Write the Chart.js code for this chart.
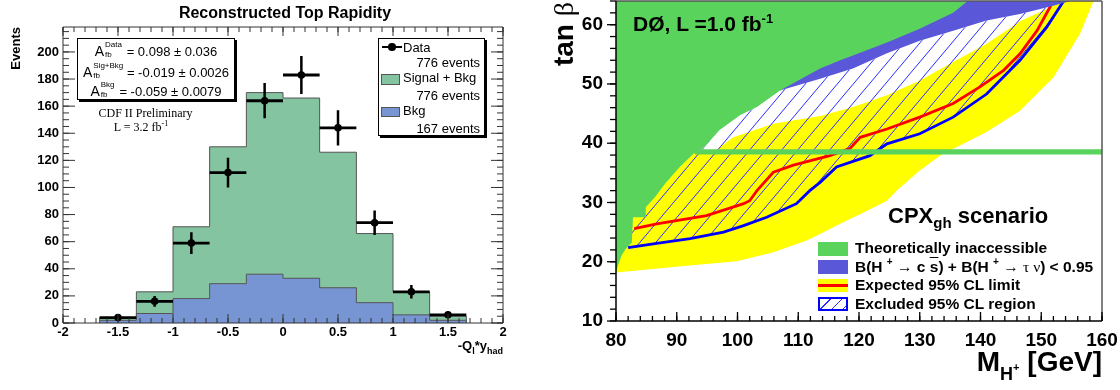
<!DOCTYPE html>
<html>
<head>
<meta charset="utf-8">
<script src="https://cdn.jsdelivr.net/npm/chart.js@4.4.1/dist/chart.umd.min.js"></script>
<style>
  html, body { margin: 0; padding: 0; background: #fff; }
  #wrap { position: relative; width: 1120px; height: 390px; overflow: hidden;
          font-family: 'Liberation Sans', Arial, sans-serif; color: #000; }
  canvas { position: absolute; top: 0; }
  #left  { left: 0; }
  #right { left: 540px; }
  .t   { position: absolute; white-space: nowrap; line-height: 1; }
  .b   { font-weight: bold; }
  .serif { font-family: 'Liberation Serif', 'Times New Roman', serif; }
  .rot { position: absolute; transform-origin: 0 0; transform: rotate(-90deg); text-align: right; white-space: nowrap; }
  .box { position: absolute; border: 1px solid #000; background: #fff; box-shadow: 2px 2px 0 #000; }
  .st  { left: 77px; width: 158px; text-align: center; font-size: 13px; }
  .A   { font-size: 14px; }
  .ud  { display: inline-block; position: relative; height: 1px; }
  .ud i { position: absolute; left: 1px; font-style: normal; font-size: 8px; line-height: 8px; }
  .ud .up { top: -14px; }
  .ud .dn { top: -4px; }
  .lg  { font-size: 13px; }
  .sw  { position: absolute; }
  .gr  { font-family: 'Liberation Serif', serif; font-weight: normal; }
  .n   { font-weight: normal; }
</style>
</head>
<body>
<div id="wrap">
  <canvas id="left" width="540" height="390"></canvas>
  <canvas id="right" width="580" height="390"></canvas>

  <!-- left panel text -->
  <div class="t b" style="left:0;width:570px;text-align:center;top:5px;font-size:16px">Reconstructed Top Rapidity</div>
  <div class="rot b" style="left:9px;top:87px;width:60px;font-size:13px;line-height:13px">Events</div>

  <div class="box" style="left:77px;top:38px;width:156px;height:60px"></div>
  <div class="t st" style="top:44px"><span class="A">A</span><span class="ud" style="width:19px"><i class="up">Data</i><i class="dn">fb</i></span> = 0.098 ± 0.036</div>
  <div class="t st" style="top:65px"><span class="A">A</span><span class="ud" style="width:31px"><i class="up">Sig+Bkg</i><i class="dn">fb</i></span> = -0.019 ± 0.0026</div>
  <div class="t st" style="top:84px"><span class="A">A</span><span class="ud" style="width:16px"><i class="up">Bkg</i><i class="dn">fb</i></span> = -0.059 ± 0.0079</div>

  <div class="t serif" style="left:60px;width:171px;text-align:center;top:107px;font-size:12px">CDF II Preliminary</div>
  <div class="t serif" style="left:60px;width:162px;text-align:center;top:121px;font-size:12px">L = 3.2 fb<span style="font-size:8px;position:relative;top:-5px">-1</span></div>

  <div class="box" style="left:378px;top:38px;width:105px;height:96px"></div>
  <div class="sw" style="left:382px;top:45.5px;width:20px;height:2.5px;background:#000"></div>
  <div class="sw" style="left:388px;top:43px;width:7.5px;height:7.5px;border-radius:50%;background:#000"></div>
  <div class="t lg" style="left:403px;top:41px">Data</div>
  <div class="t lg" style="right:640px;top:55.5px">776 events</div>
  <div class="sw" style="left:381px;top:74px;width:17px;height:9px;background:#85c4a0;border:1px solid #555"></div>
  <div class="t lg" style="left:403px;top:70.5px">Signal + Bkg</div>
  <div class="t lg" style="right:640px;top:89px">776 events</div>
  <div class="sw" style="left:381px;top:107px;width:17px;height:8px;background:#7895d3;border:1px solid #555"></div>
  <div class="t lg" style="left:403px;top:104px">Bkg</div>
  <div class="t lg" style="right:640px;top:121.5px">167 events</div>

  <div class="t b" style="right:617px;top:339px;font-size:13px">-Q<span style="font-size:9px;position:relative;top:4px">l</span>*y<span style="font-size:9px;position:relative;top:4px">had</span></div>

  <!-- right panel text -->
  <div class="rot b" style="left:550px;top:122px;width:120px;font-size:28px;line-height:28px">tan <span class="gr">β</span></div>
  <div class="t b" style="left:633px;top:13px;font-size:21px">DØ, L =1.0 fb<span style="font-size:13px;position:relative;top:-8px">-1</span></div>
  <div class="t b" style="left:888px;top:205px;font-size:22px">CPX<span style="font-size:15px;position:relative;top:5px">gh</span> scenario</div>

  <div class="sw" style="left:818px;top:242px;width:30px;height:14px;background:#59d35b"></div>
  <div class="sw" style="left:818px;top:260px;width:30px;height:14px;background:#5a58d8"></div>
  <div class="sw" style="left:818px;top:279px;width:30px;height:13px;background:#ffff00"></div>
  <div class="sw" style="left:818px;top:284px;width:30px;height:3px;background:#ff0000"></div>
  <div class="sw" style="left:818px;top:297px;width:26px;height:10px;border:2px solid #0000ff;background:repeating-linear-gradient(135deg,#fff 0 7px,#2b2bff 7px 8px)"></div>
  <div class="t b" style="left:855px;top:240px;font-size:15.5px">Theoretically inaccessible</div>
  <div class="t b" style="left:855px;top:258.5px;font-size:15.5px">B(H <span style="font-size:10px;position:relative;top:-7px">+</span> <span class="n">→</span> c <span style="text-decoration:overline">s</span>) + B(H <span style="font-size:10px;position:relative;top:-7px">+</span> <span class="n">→</span> <span class="gr">τ ν</span>) &lt; 0.95</div>
  <div class="t b" style="left:855px;top:277px;font-size:15.5px">Expected 95% CL limit</div>
  <div class="t b" style="left:855px;top:295.5px;font-size:15.5px">Excluded 95% CL region</div>

  <div class="t b" style="right:18px;top:348px;font-size:28px">M<span style="font-size:18px;position:relative;top:9px">H<span style="font-size:11px;position:relative;top:-9px">+</span></span> [GeV]</div>
</div>

<script>
// ---------- left: reconstructed top rapidity ----------
const BIN_EDGES = [-1.667, -1.333, -1, -0.667, -0.333, 0, 0.333, 0.667, 1, 1.333, 1.667]
const SIG_BKG   = [4, 23, 71, 130, 170, 166, 126, 66, 23, 5]
const BKG       = [2, 7, 18, 29, 36, 33, 26, 15, 6, 2]
const DATA_X    = [-1.5, -1.167, -0.833, -0.5, -0.167, 0.167, 0.5, 0.833, 1.167, 1.5]
const DATA_Y    = [4, 16, 59, 111, 164, 183, 144, 74, 23, 6]
const DATA_ERR  = [2, 4, 8, 11, 13, 14, 13, 9, 5, 2]
const RAP_TICKS = [-2, -1.5, -1, -0.5, 0, 0.5, 1, 1.5, 2]
const EVT_TICKS = [0, 20, 40, 60, 80, 100, 120, 140, 160, 180, 200]

// ---------- right: tan(beta) vs M_H+ exclusion ----------
const M_TICKS    = [80, 90, 100, 110, 120, 130, 140, 150, 160]
const TANB_TICKS = [10, 20, 30, 40, 50, 60]

const GREEN_M   = [80, 80.4, 80.9, 81.6, 82.6, 82.8, 84.8, 84.9, 86.5, 88.1, 90.5, 92.7, 93.5, 94.5, 97, 100.4, 103.2, 105.9, 107, 113.6, 116.9, 119, 124.6, 130, 135.5, 138.5]
const GREEN_TAN = [18.2, 19.6, 21.0, 22.2, 23.2, 27.5, 27.5, 29.2, 31.0, 33.2, 36.0, 38.2, 38.6, 39.3, 42.2, 44.7, 46.1, 48.1, 48.9, 52.6, 54.0, 54.8, 57.0, 59.3, 62.0, 64.5]

const BAND_M   = [107, 113.6, 119, 124.6, 130, 135.5, 141, 146.5, 152, 156.5]
const BAND_TAN = [48.9, 50.9, 52.6, 55.2, 57.3, 59.0, 60.7, 61.8, 63.2, 64.5]

const YLO_M   = [80, 89.4, 99.9, 105.9, 111.4, 113.6, 116.9, 120.5, 124.6, 126.2, 130, 133.5, 137.2, 141, 146.5, 152, 156.4, 158.8]
const YLO_TAN = [18.2, 19.1, 20.1, 21.6, 23.6, 24.7, 26.4, 28.2, 30.3, 32.0, 35.4, 38.0, 39.9, 41.9, 45.5, 51.1, 58.5, 64.5]
const YUP_M   = [80, 96, 99.3, 105.9, 113.6, 119, 124.6, 130, 135.5, 141, 146.5, 152, 153.5, 158.8]
const YUP_TAN = [38.5, 38.5, 41.0, 43.3, 44.6, 46.1, 48.1, 50.6, 53.7, 56.8, 60.6, 63.2, 64.5, 64.5]

const HATCH_M   = [82, 82.3, 83.5, 85.3, 87, 89, 91.5, 93.5, 94.5, 97, 100.4, 103.2, 105.9, 107, 113.6, 119, 124.6, 130, 135.5, 141, 146.5, 152, 154]
const HATCH_TAN = [22.4, 24.5, 26.5, 29.5, 31.5, 33.8, 36.8, 38.6, 39.3, 42.2, 44.7, 46.1, 48.1, 48.9, 50.9, 52.6, 55.2, 57.3, 59.0, 60.7, 61.8, 63.2, 64.5]

const EXCL_M   = [82, 86.7, 92.2, 97.7, 101, 104.8, 109.7, 111.9, 113.6, 116.3, 121.8, 124.6, 130, 135.5, 141, 146.5, 150.9, 154]
const EXCL_TAN = [22.4, 23.1, 23.9, 25.0, 26.1, 27.5, 29.8, 32.0, 33.4, 36.0, 37.9, 39.9, 41.6, 44.4, 48.3, 54.0, 59.6, 64.5]

const EXP_M   = [83, 86.7, 94.9, 101, 102, 103.2, 105.9, 109.2, 115.2, 118.5, 120.2, 124.6, 130, 135.5, 139.9, 143.8, 146.5, 149.3, 151.4, 152.2]
const EXP_TAN = [25.6, 26.4, 27.8, 29.8, 30.3, 32.0, 35.1, 36.3, 37.9, 39.1, 41.0, 42.4, 44.4, 46.7, 49.5, 52.3, 55.1, 59.0, 62.9, 64.5]

const STRIP_M  = [93, 160]
const STRIP_HI = 39.0
const STRIP_LO = 38.1

const FONT = "'Liberation Sans', Arial, sans-serif"

// ROOT-like frame with major/minor tick marks (positive len = inward)
const frameTicks = {
  id: 'frameTicks',
  afterDatasetsDraw(chart, args, o) {
    const { ctx, chartArea: a, scales } = chart
    ctx.save()
    o.frame.forEach(f => {
      ctx.strokeStyle = f.color
      ctx.lineWidth = f.width
      ctx.beginPath()
      if (f.side === 'left')   { ctx.moveTo(a.left, a.top);    ctx.lineTo(a.left, a.bottom) }
      if (f.side === 'right')  { ctx.moveTo(a.right, a.top);   ctx.lineTo(a.right, a.bottom) }
      if (f.side === 'top')    { ctx.moveTo(a.left, a.top);    ctx.lineTo(a.right, a.top) }
      if (f.side === 'bottom') { ctx.moveTo(a.left, a.bottom); ctx.lineTo(a.right, a.bottom) }
      ctx.stroke()
    })
    ctx.strokeStyle = o.tickColor
    ctx.lineWidth = o.tickWidth
    o.marks.forEach(m => {
      const s = scales[m.axis]
      const n = Math.round((m.to - m.from) / m.step)
      for (let i = 0; i <= n; i++) {
        const p = s.getPixelForValue(m.from + i * m.step)
        m.sides.forEach(side => {
          ctx.beginPath()
          if (side === 'bottom') { ctx.moveTo(p, a.bottom); ctx.lineTo(p, a.bottom - m.len) }
          if (side === 'top')    { ctx.moveTo(p, a.top);    ctx.lineTo(p, a.top + m.len) }
          if (side === 'left')   { ctx.moveTo(a.left, p);   ctx.lineTo(a.left + m.len, p) }
          if (side === 'right')  { ctx.moveTo(a.right, p);  ctx.lineTo(a.right - m.len, p) }
          ctx.stroke()
        })
      }
    })
    ctx.restore()
  }
}

const pts = (xs, ys) => xs.map((x, i) => ({ x, y: ys[i] }))

function stepHist(edges, vals) {
  const out = [{ x: edges[0], y: 0 }]
  vals.forEach((v, i) => out.push({ x: edges[i], y: v }))
  out.push({ x: edges[edges.length - 1], y: 0 })
  return out
}

function vBars() {
  const out = []
  DATA_X.forEach((x, i) => out.push({ x, y: DATA_Y[i] - DATA_ERR[i] }, { x, y: DATA_Y[i] + DATA_ERR[i] }, { x, y: null }))
  return out
}

function hBars() {
  const out = []
  DATA_X.forEach((x, i) => out.push({ x: BIN_EDGES[i], y: DATA_Y[i] }, { x: BIN_EDGES[i + 1], y: DATA_Y[i] }, { x: BIN_EDGES[i + 1], y: null }))
  return out
}

function hatchPattern(ctx) {
  const t = document.createElement('canvas')
  t.width = 16; t.height = 19
  const c = t.getContext('2d')
  c.strokeStyle = '#2b2bff'
  c.lineWidth = 1
  for (const dx of [-16, 0, 16]) {
    c.beginPath(); c.moveTo(dx, 19); c.lineTo(dx + 16, 0); c.stroke()
  }
  return ctx.createPattern(t, 'repeat')
}

// pin the plot area: no extra room for first/last tick labels
const noPad = s => { s.paddingTop = 0; s.paddingBottom = 0; s.paddingLeft = 0; s.paddingRight = 0 }

const baseOpts = {
  responsive: false,
  animation: false,
  devicePixelRatio: 1,
  events: [],
  elements: { point: { radius: 0, hitRadius: 0 }, line: { tension: 0 } },
  plugins: { legend: { display: false }, tooltip: { enabled: false }, title: { display: false } }
}

// ---- left chart
new Chart(document.getElementById('left'), {
  type: 'line',
  plugins: [frameTicks],
  data: {
    datasets: [
      { data: stepHist(BIN_EDGES, SIG_BKG), stepped: true, fill: 'origin', backgroundColor: '#85c4a0', borderColor: '#555', borderWidth: 1, order: 50 },
      { data: stepHist(BIN_EDGES, BKG), stepped: true, fill: 'origin', backgroundColor: '#7895d3', borderColor: '#555', borderWidth: 1, order: 40 },
      { data: hBars(), borderColor: '#000', borderWidth: 2.8, borderCapStyle: 'butt', fill: false, order: 30 },
      { data: vBars(), borderColor: '#000', borderWidth: 2.5, borderCapStyle: 'butt', fill: false, order: 20 },
      { data: pts(DATA_X, DATA_Y), showLine: false, pointRadius: 3.8, pointBackgroundColor: '#000', pointBorderWidth: 0, order: 10 }
    ]
  },
  options: {
    ...baseOpts,
    layout: { padding: { top: 27, right: 37, left: 0, bottom: 0 } },
    scales: {
      x: {
        type: 'linear', min: -2, max: 2,
        afterBuildTicks: s => { s.ticks = RAP_TICKS.map(v => ({ value: v })) },
        afterFit: s => { s.height = 67; noPad(s) },
        grid: { display: false, drawTicks: false }, border: { display: false },
        ticks: { autoSkip: false, maxRotation: 0, padding: 2, color: '#000', font: { family: FONT, size: 13, weight: 'bold' }, callback: v => String(v) }
      },
      y: {
        type: 'linear', min: 0, max: 218.4,
        afterBuildTicks: s => { s.ticks = EVT_TICKS.map(v => ({ value: v })) },
        afterFit: s => { s.width = 63; noPad(s) },
        grid: { display: false, drawTicks: false }, border: { display: false },
        ticks: { padding: 4, color: '#000', font: { family: FONT, size: 13, weight: 'bold' }, callback: v => String(v) }
      }
    },
    plugins: {
      ...baseOpts.plugins,
      frameTicks: {
        frame: ['left', 'bottom', 'top', 'right'].map(side => ({ side, color: '#333', width: 1 })),
        tickColor: '#333', tickWidth: 1,
        marks: [
          { axis: 'x', sides: ['bottom', 'top'], from: -2, to: 2, step: 0.5, len: 9 },
          { axis: 'x', sides: ['bottom', 'top'], from: -2, to: 2, step: 0.1, len: 5 },
          { axis: 'y', sides: ['left', 'right'], from: 0, to: 200, step: 20, len: 12 },
          { axis: 'y', sides: ['left', 'right'], from: 0, to: 215, step: 5, len: 6 }
        ]
      }
    }
  }
})

// ---- right chart
const rightCanvas = document.getElementById('right')
const hatch = hatchPattern(rightCanvas.getContext('2d'))
const none = 'transparent'

new Chart(rightCanvas, {
  type: 'line',
  plugins: [frameTicks],
  data: {
    datasets: [
      { data: pts(YLO_M, YLO_TAN), borderColor: none, borderWidth: 0, fill: false, order: 90 },
      { data: pts(YUP_M, YUP_TAN), borderColor: none, borderWidth: 0, backgroundColor: '#ffff00', fill: '-1', order: 80 },
      { data: pts(HATCH_M, HATCH_TAN), borderColor: none, borderWidth: 0, backgroundColor: hatch, fill: '+1', order: 70 },
      { data: pts(EXCL_M, EXCL_TAN), borderColor: '#0000ff', borderWidth: 2.8, fill: false, order: 50 },
      { data: pts(EXP_M, EXP_TAN), borderColor: '#ff0000', borderWidth: 2.8, fill: false, order: 60 },
      { data: pts(BAND_M, BAND_TAN), borderColor: none, borderWidth: 0, backgroundColor: '#5a58d8', fill: 'end', order: 40 },
      { data: pts(GREEN_M, GREEN_TAN), borderColor: none, borderWidth: 0, backgroundColor: '#59d35b', fill: 'end', order: 30 },
      { data: pts(STRIP_M, STRIP_M.map(() => STRIP_HI)), borderColor: none, borderWidth: 0, backgroundColor: '#59d35b', fill: { value: STRIP_LO }, order: 20 }
    ]
  },
  options: {
    ...baseOpts,
    datasets: { line: { clip: 0 } },
    layout: { padding: { top: 1, right: 18, left: 0, bottom: 0 } },
    scales: {
      x: {
        type: 'linear', min: 80, max: 160,
        afterBuildTicks: s => { s.ticks = M_TICKS.map(v => ({ value: v })) },
        afterFit: s => { s.height = 69; noPad(s) },
        grid: { display: false, drawTicks: false }, border: { display: false },
        ticks: { autoSkip: false, maxRotation: 0, padding: 8, color: '#000', font: { family: FONT, size: 19, weight: 'bold' }, callback: v => String(v) }
      },
      y: {
        type: 'linear', min: 10, max: 64,
        afterBuildTicks: s => { s.ticks = TANB_TICKS.map(v => ({ value: v })) },
        afterFit: s => { s.width = 76; noPad(s) },
        grid: { display: false, drawTicks: false }, border: { display: false },
        ticks: { padding: 13, color: '#000', font: { family: FONT, size: 19, weight: 'bold' }, callback: v => String(v) }
      }
    },
    plugins: {
      ...baseOpts.plugins,
      frameTicks: {
        frame: [
          { side: 'top', color: '#555', width: 1.5 },
          { side: 'right', color: '#555', width: 1.5 },
          { side: 'left', color: '#000', width: 1.5 },
          { side: 'bottom', color: '#000', width: 1.5 }
        ],
        tickColor: '#000', tickWidth: 1.3,
        marks: [
          { axis: 'x', sides: ['bottom'], from: 80, to: 160, step: 10, len: 9 },
          { axis: 'x', sides: ['bottom'], from: 80, to: 160, step: 2, len: 5 },
          { axis: 'y', sides: ['left'], from: 10, to: 60, step: 10, len: -9 },
          { axis: 'y', sides: ['left'], from: 10, to: 64, step: 2, len: -6 }
        ]
      }
    }
  }
})
</script>
</body>
</html>
